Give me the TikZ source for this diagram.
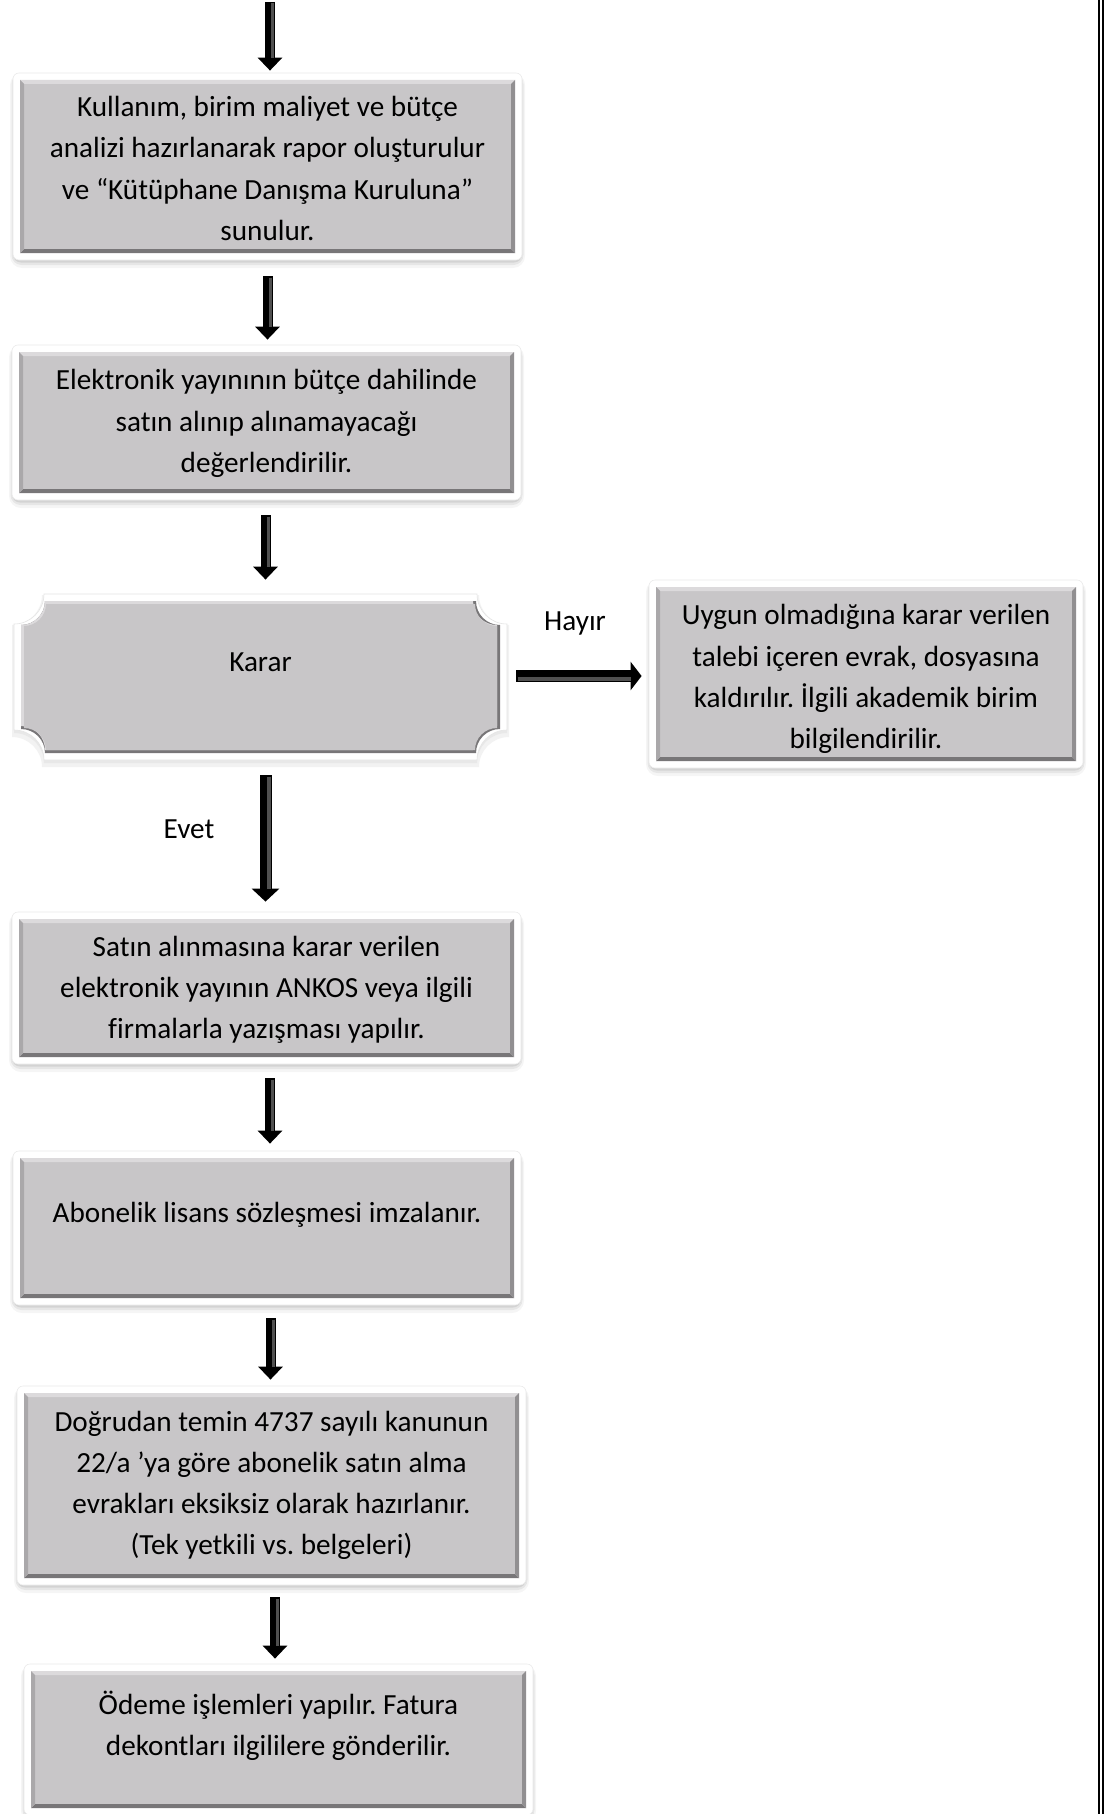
\documentclass[tikz,border=0pt]{standalone}
\usepackage{fontspec}
\setmainfont{Carlito}[Ligatures={NoCommon}]
\frenchspacing
\usetikzlibrary{arrows.meta,calc}
\definecolor{boxgray}{RGB}{200,198,200}
\definecolor{bevtop}{RGB}{220,218,220}
\definecolor{bevleft}{RGB}{170,168,170}
\definecolor{bevright}{RGB}{145,143,145}
\definecolor{bevbot}{RGB}{120,118,120}
\definecolor{arrowhi}{RGB}{80,80,80}

\newcommand\softshadow[4]{%
  \fill[black,opacity=0.04,rounded corners=6] (#1-3,#2) rectangle (#3+3,#4+8);
  \fill[black,opacity=0.06,rounded corners=5] (#1-1.5,#2+1) rectangle (#3+1.5,#4+5);
  \fill[black,opacity=0.08,rounded corners=4] (#1,#2+2) rectangle (#3,#4+2.5);
}
\newcommand\gbox[4]{%
  \softshadow{#1}{#2}{#3}{#4}
  \fill[white,rounded corners=3] (#1,#2) rectangle (#3,#4);
  \draw[black!8,rounded corners=3,line width=0.3pt] (#1,#2) rectangle (#3,#4);
  \fill[boxgray] (#1+7,#2+7) rectangle (#3-7,#4-7);
  \fill[bevtop] (#1+7,#2+7) -- (#3-7,#2+7) -- (#3-11,#2+11) -- (#1+11,#2+11) -- cycle;
  \fill[bevbot] (#1+7,#4-7) -- (#3-7,#4-7) -- (#3-11,#4-11) -- (#1+11,#4-11) -- cycle;
  \fill[bevleft] (#1+7,#2+7) -- (#1+11,#2+11) -- (#1+11,#4-11) -- (#1+7,#4-7) -- cycle;
  \fill[bevright] (#3-7,#2+7) -- (#3-11,#2+11) -- (#3-11,#4-11) -- (#3-7,#4-7) -- cycle;
}
\newcommand\plaquepath[6]{%
  \path[#1] (#2+#6,#3) -- (#4-#6,#3) arc[start angle=180,end angle=90,radius=#6]
    -- (#4,#5-#6) arc[start angle=270,end angle=180,radius=#6]
    -- (#2+#6,#5) arc[start angle=0,end angle=-90,radius=#6]
    -- (#2,#3+#6) arc[start angle=90,end angle=0,radius=#6] -- cycle;
}
\newcommand\pbox[4]{%
  \plaquepath{fill=black!5}{#1-2}{#2+1}{#3+2}{#4+7}{30}
  \plaquepath{fill=black!9}{#1}{#2+2}{#3}{#4+3}{30}
  \plaquepath{fill=white,draw=black!10,line width=0.3pt}{#1}{#2}{#3}{#4}{30}
  \plaquepath{fill=bevbot}{#1+7}{#2+7}{#3-7}{#4-7}{24}
  \plaquepath{fill=bevtop}{#1+7}{#2+7}{#3-10}{#4-10}{24}
  \plaquepath{fill=boxgray}{#1+10}{#2+10}{#3-10}{#4-10}{22}
}
\newcommand\boxnode[7]{%
  \gbox{#2}{#3}{#4}{#5}
  \node[txt, minimum width={(#4-#2)*0.5pt}, minimum height={(#5-#3)*0.5pt}, #6] (#1) at ({(#2+#4)/2},{(#3+#5)/2}) {#7};
}

\begin{document}
\begin{tikzpicture}[x=0.5pt,y=-0.5pt,
  txt/.style={align=center, inner sep=0pt, text=black,
    font=\fontsize{14.6pt}{20.6pt}\selectfont\frenchspacing},
  bigarr/.style={line width=5pt, black, -{Triangle[width=12pt,length=6.5pt]},
    postaction={draw=arrowhi, line width=1.5pt, -, shorten >=6.5pt, shorten <=0.6pt,
      transform canvas={xshift=1.3pt}}},
  longarr/.style={line width=6pt, black, -{Triangle[width=13.5pt,length=6.5pt]},
    postaction={draw=arrowhi, line width=2pt, -, shorten >=6.5pt, shorten <=0.6pt,
      transform canvas={xshift=1.5pt}}},
  sidearr/.style={line width=6pt, black, -{Triangle[width=14pt,length=5.5pt]},
    postaction={draw=arrowhi, line width=2pt, -, shorten >=5.5pt, shorten <=0.6pt,
      transform canvas={yshift=-1.3pt}}}
]
\useasboundingbox (0,0) rectangle (1105,1814);
\fill[white] (0,0) rectangle (1105,1814);

% boxes
\boxnode{b1}{13}{73}{522}{260}{yshift=-1pt}{Kullanım, birim maliyet ve bütçe\\analizi hazırlanarak rapor oluşturulur\\ve “Kütüphane Danışma Kuruluna”\\sunulur.}
\boxnode{b2}{12}{345}{521}{500}{yshift=-0.5pt}{Elektronik yayınının bütçe dahilinde\\satın alınıp alınamayacağı\\değerlendirilir.}

\pbox{14}{594}{507}{760}
\node[txt, minimum width=246.5pt, minimum height=83pt, text depth=15pt] (karar) at (260.5,677) {Karar};

\boxnode{rbox}{649}{580}{1083}{768}{yshift=-2.5pt}{Uygun olmadığına karar verilen\\talebi içeren evrak, dosyasına\\kaldırılır. İlgili akademik birim\\bilgilendirilir.}
\boxnode{b4}{12}{912}{521}{1064}{yshift=-1pt}{Satın alınmasına karar verilen\\elektronik yayının ANKOS veya ilgili\\firmalarla yazışması yapılır.}
\boxnode{b5}{13}{1151}{521}{1305}{yshift=-1pt,text depth=17.5pt}{Abonelik lisans sözleşmesi imzalanır.}
\boxnode{b6}{17}{1386}{526}{1585}{}{Doğrudan temin 4737 sayılı kanunun\\22/a ’ya göre abonelik satın alma\\evrakları eksiksiz olarak hazırlanır.\\(Tek yetkili vs. belgeleri)}
\boxnode{b7}{24}{1664}{533}{1815}{text depth=16.5pt}{Ödeme işlemleri yapılır. Fatura\\dekontları ilgililere gönderilir.}

% labels
\node[txt] (hayir) at (575,623) {Hayır};
\node[txt] (evet) at (189,829) {Evet};

% connectors
\coordinate (top) at (270,2);
\draw[bigarr] (top) -- ($(b1.north -| top)+(0,-4)$);
\draw[bigarr] ($(b1.south)+(0,14)$) -- ($(b2.north -| b1.south)+(0,-6)$);
\draw[bigarr] ($(b2.south)+(-1,14)$) -- ($(karar.north -| b2.south)+(-1,-14)$);
\draw[longarr] ($(karar.south -| b4.north)+(-1,15)$) -- ($(b4.north)+(-1,-12)$);
\draw[sidearr] ($(karar.east)+(9,-1)$) -- ($(rbox.west |- karar.east)+(-7,-1)$);
\draw[bigarr] ($(b4.south)+(3.5,12)$) -- ($(b5.north -| b4.south)+(3.5,-9)$);
\draw[bigarr] ($(b5.south -| b6.north)+(-1,11)$) -- ($(b6.north)+(-1,-6)$);
\draw[bigarr] ($(b6.south -| b7.north)+(-3.5,12)$) -- ($(b7.north)+(-3.5,-5)$);

% page border (double line)
\draw[line width=0.85pt] (1099.3,0) -- (1099.3,1814);
\draw[line width=0.85pt] (1103.3,0) -- (1103.3,1814);
\end{tikzpicture}
\end{document}
